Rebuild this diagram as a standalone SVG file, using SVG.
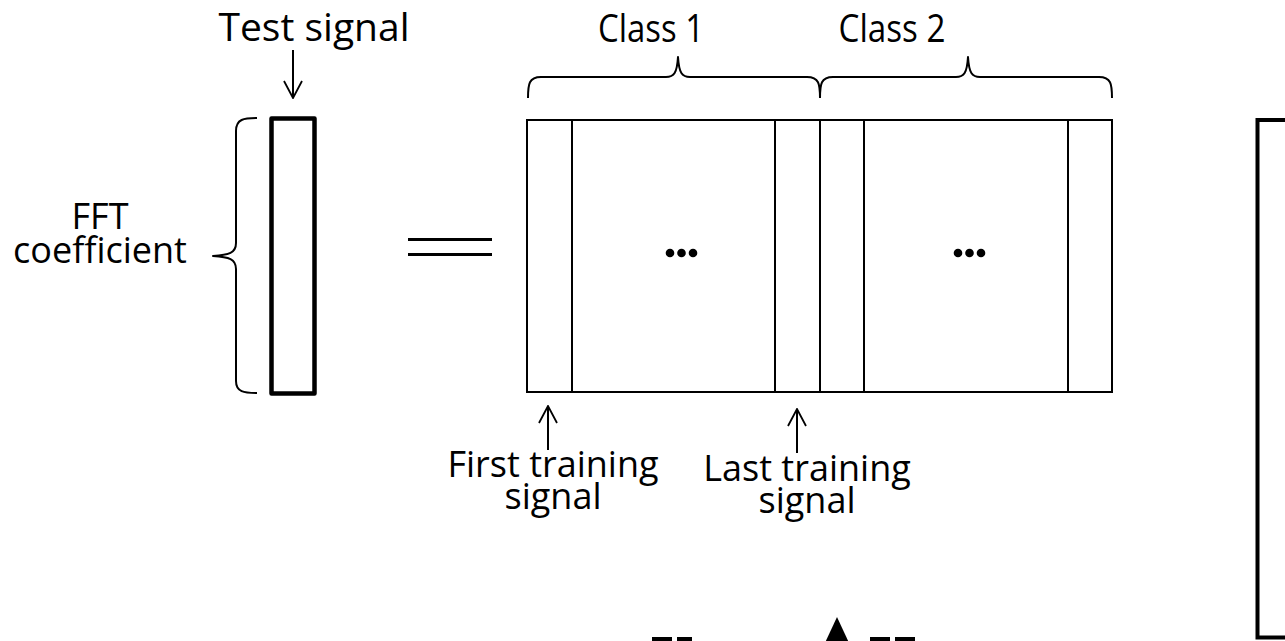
<svg xmlns="http://www.w3.org/2000/svg" width="1285" height="641" viewBox="0 0 1285 641">
  <defs>
    <style>
      .lbl { font-family: "Open Sans", "Noto Sans", "Liberation Sans", sans-serif; fill: #000; text-anchor: middle; }
      .big { font-size: 39px; }
      .mid { font-size: 36px; }
      .thin { fill: none; stroke: #000; stroke-width: 2; }
      .brace { fill: none; stroke: #000; stroke-width: 2; stroke-linejoin: round; }
      .heavy { fill: #fff; stroke: #000; stroke-width: 4.5; stroke-linejoin: round; }
      .dot { fill: #000; }
    </style>
    <marker id="open" viewBox="0 0 20 20" refX="19" refY="10" markerWidth="20" markerHeight="20" markerUnits="userSpaceOnUse" orient="auto">
      <path d="M2,1 L19,10 L2,19" fill="none" stroke="#000" stroke-width="1.8"/>
    </marker>
  </defs>
  <rect width="1285" height="641" fill="#fff"/>

  <!-- test signal column vector -->
  <g id="test-vector">
    <rect class="heavy" x="271.5" y="118.5" width="43" height="275"/>
    <text class="lbl big" x="314" y="41">Test signal</text>
  </g>

  <!-- brace and label for the FFT coefficients -->
  <g id="fft-label">
    <path class="brace" d="M257,118 C244,118 236,119 236,131 L236,243 C236,253 229,255 213,256 C229,257 236,259 236,269 L236,381 C236,392 244,393 257,393"/>
    <text class="lbl mid" x="100" y="229">FFT</text>
    <text class="lbl mid" x="100" y="263">coefficient</text>
  </g>

  <!-- equals sign -->
  <g id="equals">
    <line x1="408" y1="239.5" x2="492" y2="239.5" stroke="#000" stroke-width="3"/>
    <line x1="408" y1="254.5" x2="492" y2="254.5" stroke="#000" stroke-width="3"/>
  </g>

  <!-- training matrix, two classes -->
  <g id="training-matrix">
    <rect class="thin" x="527" y="120" width="585" height="272"/>
    <line class="thin" x1="572" y1="120" x2="572" y2="392"/>
    <line class="thin" x1="775" y1="120" x2="775" y2="392"/>
    <line class="thin" x1="820" y1="120" x2="820" y2="392"/>
    <line class="thin" x1="864" y1="120" x2="864" y2="392"/>
    <line class="thin" x1="1068" y1="120" x2="1068" y2="392"/>
    <circle class="dot" cx="670" cy="253" r="4.3"/>
    <circle class="dot" cx="681.5" cy="253" r="4.3"/>
    <circle class="dot" cx="693" cy="253" r="4.3"/>
    <circle class="dot" cx="958" cy="253" r="4.3"/>
    <circle class="dot" cx="969.5" cy="253" r="4.3"/>
    <circle class="dot" cx="981" cy="253" r="4.3"/>
  </g>

  <g id="class1">
    <path class="brace" d="M528,98 C528,84 529,77 541,77 L666,77 C674,77 677,73 678,57 C679,73 682,77 690,77 L807,77 C819,77 820,84 820,98"/>
    <text class="lbl big" x="651" y="42" textLength="106" lengthAdjust="spacingAndGlyphs">Class 1</text>
  </g>

  <g id="class2">
    <path class="brace" d="M820,98 C820,84 821,77 833,77 L956,77 C964,77 967,73 968,57 C969,73 972,77 980,77 L1099,77 C1111,77 1112,84 1112,98"/>
    <text class="lbl big" x="892" y="42" textLength="107" lengthAdjust="spacingAndGlyphs">Class 2</text>
  </g>

  <g id="first-label">
    <text class="lbl mid" x="553" y="477">First training</text>
    <text class="lbl mid" x="553" y="509">signal</text>
  </g>

  <g id="last-label">
    <text class="lbl mid" x="807" y="481">Last training</text>
    <text class="lbl mid" x="807" y="513">signal</text>
  </g>

  <!-- right-hand vector, running off the page -->
  <g id="right-vector">
    <rect x="1257.5" y="120" width="80" height="517.5" fill="none" stroke="#000" stroke-width="4"/>
  </g>

  <!-- parts of the expression below, cut at the page edge -->
  <g id="lower-expression">
    <rect x="652" y="637" width="20" height="8" fill="#000"/>
    <rect x="677" y="637" width="15" height="8" fill="#000"/>
    <polygon points="837,617 850,645 824,645" fill="#000"/>
    <rect x="870" y="637" width="20" height="8" fill="#000"/>
    <rect x="895" y="637" width="20" height="8" fill="#000"/>
  </g>

  <!-- pointer arrows -->
  <g id="connectors">
    <line class="thin" x1="293" y1="50" x2="293" y2="98" stroke-width="1.8" marker-end="url(#open)"/>
    <line class="thin" x1="548" y1="450" x2="548" y2="406" stroke-width="1.8" marker-end="url(#open)"/>
    <line class="thin" x1="797" y1="453" x2="797" y2="409" stroke-width="1.8" marker-end="url(#open)"/>
  </g>
</svg>
